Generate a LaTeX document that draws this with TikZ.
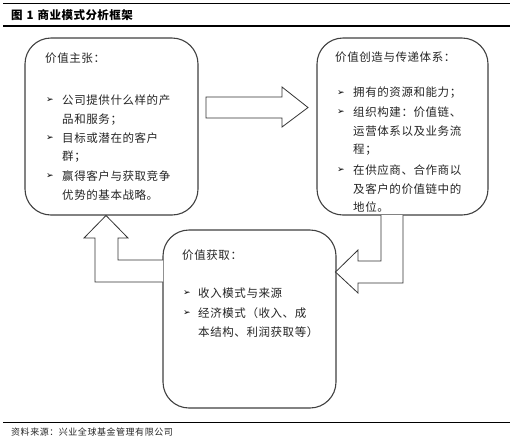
\documentclass[tikz,border=0pt]{standalone}
\usepackage{fontspec}
\newfontfamily\cjk[LetterSpace=5]{Noto Sans CJK SC}
\newfontfamily\cjktitle[LetterSpace=4]{Noto Sans CJK SC}
\newfontfamily\cjksrc[LetterSpace=6]{Noto Sans CJK SC}
\newfontfamily\symfont{DejaVu Sans}
\begin{document}
\begin{tikzpicture}[x=1pt,y=-1pt,
  box/.style={draw=black!75,line width=1.1pt,rounded corners=26pt,fill=white,inner sep=0pt},
  blockarrow/.style={draw=black!80,line width=0.8pt,fill=white,line join=miter},
  head/.style={anchor=west,inner sep=0pt,font=\cjk\fontsize{11.5}{13}\selectfont,text=black!85},
  txt/.style={anchor=west,inner sep=0pt,font=\cjk\fontsize{11.5}{13}\selectfont,text=black!85},
  bul/.style={anchor=west,inner sep=0pt,font=\symfont\fontsize{9}{10}\selectfont,text=black},
  rule/.style={draw=black,line width=0.8pt}]
\useasboundingbox (0,0) rectangle (513,440);
% frame rules
\draw[rule] (3,3) -- (510,3);
\draw[rule,line width=1.1pt] (3,26) -- (510,26);
\draw[rule] (3,422) -- (510,422);
\node[anchor=west,inner sep=0pt,font=\cjktitle\bfseries\fontsize{11.5}{13}\selectfont] (title) at (11,15) {图\hspace{4pt}1\hspace{4pt}商业模式分析框架};
\node[anchor=west,inner sep=0pt,font=\cjksrc\fontsize{9}{11}\selectfont,text=black!85] (src) at (11,432) {资料来源：兴业全球基金管理有限公司};
% boxes
\node[box,minimum width=173pt,minimum height=177pt] (A) at (111.5,126.5) {};
\node[box,minimum width=171pt,minimum height=177pt] (B) at (402.5,126.5) {};
\node[box,minimum width=173pt,minimum height=178pt] (C) at (249.5,319) {};
% straight arrow A -> B
\draw[blockarrow] (206,97) -- (282,97) -- (282,87) -- (308,107.5) -- (282,127) -- (282,118) -- (206,118) -- cycle;
% bent arrow B -> C
\draw[blockarrow] (381,215) -- (381,261) -- (358,261) -- (358,250) -- (335.5,272) -- (358,293) -- (358,283) -- (403,283) -- (403,215);
% bent arrow C -> A
\draw[blockarrow] (163,260) -- (118,260) -- (118,238) -- (128,238) -- (106,215.5) -- (84,238) -- (95,238) -- (95,282) -- (163,282);
% Box A text
\node[head] (a0) at (45,58) {价值主张：};
\node[bul] (ab1) at (46,100) {➢};
\node[txt] (a1) at (62,100) {公司提供什么样的产};
\node[txt] (a2) at (62,120) {品和服务；};
\node[bul] (ab2) at (46,138) {➢};
\node[txt] (a3) at (62,138) {目标或潜在的客户};
\node[txt] (a4) at (62,157) {群；};
\node[bul] (ab3) at (46,176) {➢};
\node[txt] (a5) at (62,176) {赢得客户与获取竞争};
\node[txt] (a6) at (62,195) {优势的基本战略。};
% Box B text
\node[head] (b0) at (335,57) {价值创造与传递体系：};
\node[bul] (bb1) at (337,93) {➢};
\node[txt] (b1) at (353,93) {拥有的资源和能力；};
\node[bul] (bb2) at (337,112) {➢};
\node[txt] (b2) at (353,112) {组织构建：价值链、};
\node[txt] (b3) at (353,131) {运营体系以及业务流};
\node[txt] (b4) at (353,150) {程；};
\node[bul] (bb3) at (337,170) {➢};
\node[txt] (b5) at (353,170) {在供应商、合作商以};
\node[txt] (b6) at (353,189) {及客户的价值链中的};
\node[txt] (b7) at (353,207) {地位。};
% Box C text
\node[head] (c0) at (182,255) {价值获取：};
\node[bul] (cb1) at (183,293) {➢};
\node[txt] (c1) at (198,293) {收入模式与来源};
\node[bul] (cb2) at (183,313) {➢};
\node[txt] (c2) at (198,313) {经济模式（收入、成};
\node[txt] (c3) at (198,332) {本结构、利润获取等）};
\end{tikzpicture}
\end{document}
